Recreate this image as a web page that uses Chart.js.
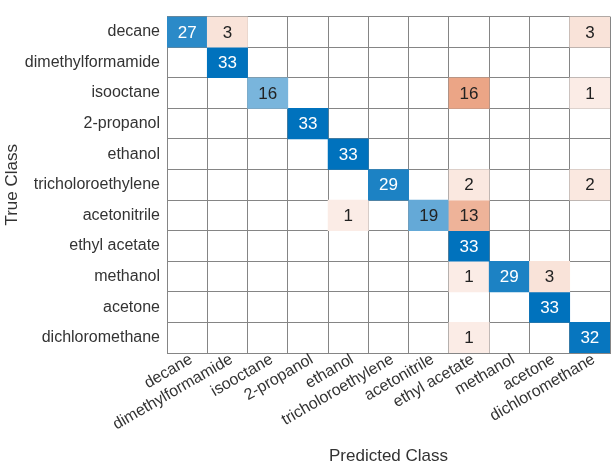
<!DOCTYPE html>
<html>
<head>
<meta charset="utf-8">
<script src="https://cdn.jsdelivr.net/npm/chart.js@4.4.0/dist/chart.umd.min.js"></script>
<style>
  body { margin: 0; background: #fff; }
  canvas { display: block; }
</style>
</head>
<body>
<canvas id="cmChart" width="611" height="467"></canvas>
<script>
// class names (rows = true class, columns = predicted class)
var classes = ['decane', 'dimethylformamide', 'isooctane', '2-propanol', 'ethanol',
  'tricholoroethylene', 'acetonitrile', 'ethyl acetate', 'methanol', 'acetone', 'dichloromethane'];

var decane            = [27, 3, 0, 0, 0, 0, 0, 0, 0, 0, 3];
var dimethylformamide = [0, 33, 0, 0, 0, 0, 0, 0, 0, 0, 0];
var isooctane         = [0, 0, 16, 0, 0, 0, 0, 16, 0, 0, 1];
var propanol2         = [0, 0, 0, 33, 0, 0, 0, 0, 0, 0, 0];
var ethanol           = [0, 0, 0, 0, 33, 0, 0, 0, 0, 0, 0];
var tricholoroethylene= [0, 0, 0, 0, 0, 29, 0, 2, 0, 0, 2];
var acetonitrile      = [0, 0, 0, 0, 1, 0, 19, 13, 0, 0, 0];
var ethylAcetate      = [0, 0, 0, 0, 0, 0, 0, 33, 0, 0, 0];
var methanol          = [0, 0, 0, 0, 0, 0, 0, 1, 29, 3, 0];
var acetone           = [0, 0, 0, 0, 0, 0, 0, 0, 0, 33, 0];
var dichloromethane   = [0, 0, 0, 0, 0, 0, 0, 1, 0, 0, 32];

var rows = [decane, dimethylformamide, isooctane, propanol2, ethanol, tricholoroethylene,
  acetonitrile, ethylAcetate, methanol, acetone, dichloromethane];

var maxCount = 33;
var diagColor = [0, 114, 189];
var offColor = [217, 83, 25];

// tint strength: a small floor so even 1 shows, full colour at the max count
function blendOf(v) {
  return Math.min(1, 0.08 + 0.92 * v / maxCount);
}
function cellColor(v, diag) {
  var c = diag ? diagColor : offColor;
  var t = blendOf(v);
  return 'rgb(' + c.map(function (k) { return Math.round(255 - (255 - k) * t); }).join(',') + ')';
}

var datasets = rows.map(function (row, r) {
  return {
    label: classes[r],
    data: row.map(function (v) { return v > 0 ? [r - 0.5, r + 0.5] : null; }),
    counts: row,
    backgroundColor: row.map(function (v, c) { return cellColor(v, r === c); }),
    borderWidth: 0,
    barPercentage: 1,
    categoryPercentage: 1
  };
});

var gridGray = '#858585';
var fontFam = '"Liberation Sans", Arial, sans-serif';

var cellText = {
  id: 'cellText',
  afterDatasetsDraw: function (chart) {
    var ctx = chart.ctx;
    ctx.save();
    ctx.font = '17px ' + fontFam;
    ctx.textAlign = 'center';
    ctx.textBaseline = 'middle';
    chart.data.datasets.forEach(function (ds, i) {
      var meta = chart.getDatasetMeta(i);
      meta.data.forEach(function (bar, j) {
        var v = ds.counts[j];
        if (!v) return;
        ctx.fillStyle = blendOf(v) > 0.7 ? '#ffffff' : '#222222';
        ctx.fillText(String(v), bar.x, (bar.y + bar.base) / 2 + 1);
      });
    });
    ctx.restore();
  }
};

var chart = new Chart(document.getElementById('cmChart').getContext('2d'), {
  type: 'bar',
  data: { labels: classes, datasets: datasets },
  options: {
    responsive: false,
    animation: false,
    grouped: false,
    layout: { padding: { top: 2, right: 1, left: 0, bottom: 0 } },
    plugins: { legend: { display: false }, tooltip: { enabled: false } },
    scales: {
      x: {
        z: 1,
        grid: { color: gridGray, offset: true, drawTicks: false },
        border: { color: gridGray },
        ticks: {
          minRotation: 30, maxRotation: 30, autoSkip: false, padding: -3, labelOffset: 4,
          color: '#333333',
          font: { family: fontFam, size: 16 }
        },
        title: {
          display: true, text: 'Predicted Class', color: '#333333', padding: 0,
          font: { family: fontFam, size: 17 }
        },
        afterFit: function (s) { s.height = 114; }
      },
      y: {
        z: 1,
        type: 'linear',
        reverse: true,
        min: -0.5,
        max: 10.5,
        afterBuildTicks: function (s) {
          var t = [];
          for (var k = -1; k <= 21; k++) t.push({ value: k / 2 });
          s.ticks = t;
        },
        grid: {
          drawTicks: false,
          color: function (c) {
            return (c.tick && Number.isInteger(c.tick.value)) ? 'rgba(0,0,0,0)' : gridGray;
          }
        },
        border: { color: gridGray },
        ticks: {
          autoSkip: false, padding: 7, color: '#333333',
          font: { family: fontFam, size: 16 },
          callback: function (v) { return Number.isInteger(v) ? classes[v] : ''; }
        },
        title: {
          display: true, text: 'True Class', color: '#333333', padding: { top: 2, bottom: 0 },
          font: { family: fontFam, size: 17 }
        },
        afterFit: function (s) { s.width = 167; }
      }
    }
  },
  plugins: [cellText]
});
</script>
</body>
</html>
